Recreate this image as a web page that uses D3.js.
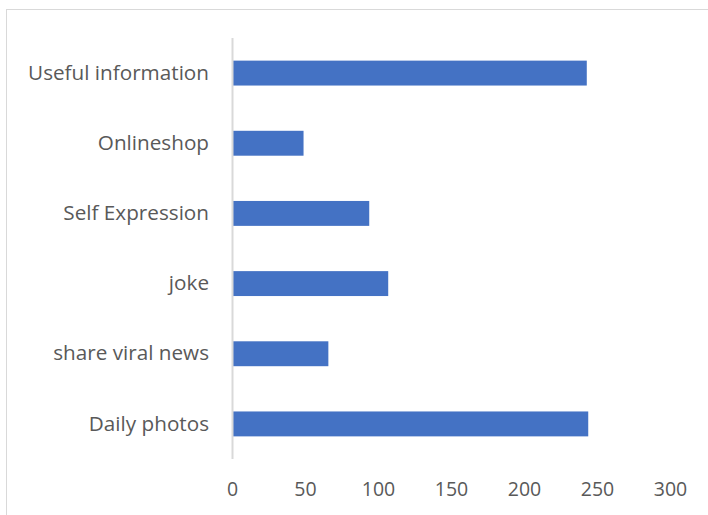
<!DOCTYPE html>
<html>
<head>
<meta charset="utf-8">
<script src="https://cdn.jsdelivr.net/npm/d3@7"></script>
<style>
  html, body { margin: 0; padding: 0; background: #fff; }
  svg { display: block; }
</style>
</head>
<body>
<svg id="chart" width="708" height="515"></svg>
<script>
const categories = ["Useful information", "Onlineshop", "Self Expression", "joke", "share viral news", "Daily photos"];
const values = [243, 49, 94, 107, 66, 244];
const tickValues = [0, 50, 100, 150, 200, 250, 300];

const svg = d3.select("#chart");
const W = 708, H = 515;
const fontFamily = "'Open Sans', Lato, sans-serif";
const textColor = "#595959";

// outer chart border
svg.append("rect")
  .attr("x", 6.5).attr("y", 9.5)
  .attr("width", W + 20).attr("height", H + 20)
  .attr("fill", "none").attr("stroke", "#d9d9d9").attr("stroke-width", 1);

const plot = { left: 232, right: 670, top: 38, bottom: 459 };

const x = d3.scaleLinear().domain([0, 300]).range([plot.left, plot.right]);
const y = d3.scaleBand().domain(categories).range([plot.top, plot.bottom]).paddingInner(0.645).paddingOuter(0.3225);

// bars
svg.append("g").selectAll("rect")
  .data(categories.map((c, i) => ({ c, v: values[i] })))
  .join("rect")
  .attr("x", x(0))
  .attr("y", d => y(d.c))
  .attr("width", d => x(d.v) - x(0))
  .attr("height", y.bandwidth())
  .attr("fill", "#4472C4");

// vertical axis line
svg.append("line")
  .attr("x1", plot.left + 0.5).attr("x2", plot.left + 0.5)
  .attr("y1", plot.top).attr("y2", plot.bottom)
  .attr("stroke", "#d9d9d9").attr("stroke-width", 2);

// category labels
const yAxis = d3.axisLeft(y).tickSize(0).tickPadding(23);
const gy = svg.append("g").attr("transform", `translate(${plot.left},0)`).call(yAxis);
gy.select(".domain").remove();
gy.selectAll("text")
  .attr("fill", textColor)
  .style("font-family", fontFamily)
  .style("font-size", "20.7px");

// x tick labels
const xAxis = d3.axisBottom(x).tickValues(tickValues).tickSize(0).tickPadding(0).tickFormat(d3.format("d"));
const gx = svg.append("g").attr("transform", `translate(0,${plot.bottom + 23})`).call(xAxis);
gx.select(".domain").remove();
gx.selectAll("text")
  .attr("fill", textColor)
  .style("font-family", fontFamily)
  .style("font-size", "19.5px");
</script>
</body>
</html>
